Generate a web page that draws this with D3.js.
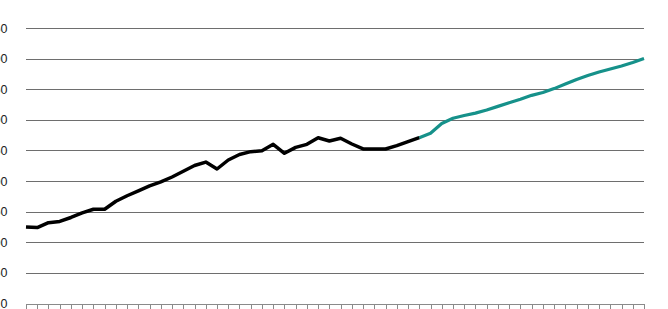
<!DOCTYPE html>
<html>
<head>
<meta charset="utf-8">
<script src="https://cdn.jsdelivr.net/npm/d3@7"></script>
<style>
  html, body { margin: 0; padding: 0; background: #fff; }
  svg { display: block; }
</style>
</head>
<body>
<svg id="chart" width="668" height="309"></svg>
<script>
// ---- data ----
const periods = [1995,1996,1997,1998,1999,2000,2001,2002,2003,2004,2005,2006,2007,2008,
  2009,2010,2011,2012,2013,2014,2015,2016,2017,2018,2019,2020,2021,2022,2023,2024,2025,
  2026,2027,2028,2029,2030,2031,2032,2033,2034,2035,2036,2037,2038,2039,2040,2041,2042,
  2043,2044,2045,2046,2047,2048,2049,2050];
const historical = [125,124,132,134,140.5,148,154,154,167,176,184,192,198.5,206.6,216,225.4,
  231,219.7,234.4,243.4,248,249.6,260,245.3,255,260,270.8,265.4,270,260.5,252.4,252.4,
  252.4,257.8,264.3,270.8];
const projection = [270.8,278,294,302.5,307,311,316,322,328,333.5,340,344.6,351,358.5,366,
  372.4,378,383,388,393.6,400];
const yTicks = [0,50,100,150,200,250,300,350,400,450];

// ---- layout ----
const svg = d3.select("#chart");
const mLeft = 26, mRight = 644, mTop = 28, mBottom = 303.5;

const x = d3.scaleLinear().domain([0, periods.length - 1]).range([mLeft, mRight]);
const y = d3.scaleLinear().domain([0, 450]).range([mBottom, mTop]);

// gridlines + y labels
const yAxis = d3.axisLeft(y).tickValues(yTicks).tickSize(-(mRight - mLeft)).tickPadding(18.5)
  .tickFormat(d3.format("d"));
const gy = svg.append("g").attr("transform", `translate(${mLeft},0)`).call(yAxis);
gy.select(".domain").remove();
gy.selectAll(".tick line").attr("stroke", "#6e6e6e").attr("stroke-width", 1)
  .attr("shape-rendering", "crispEdges");
gy.selectAll(".tick text").attr("fill", "#222").attr("font-size", 12.5)
  .attr("font-family", "'Liberation Sans', Arial, sans-serif");

// x axis with tick marks, no labels
const xAxis = d3.axisBottom(x).tickValues(d3.range(periods.length)).tickSize(5)
  .tickSizeOuter(0).tickFormat("");
const gx = svg.append("g").attr("transform", `translate(0,${mBottom})`).call(xAxis);
gx.select(".domain").attr("stroke", "#8a8a8a").attr("shape-rendering", "crispEdges");
gx.selectAll(".tick line").attr("stroke", "#8a8a8a").attr("shape-rendering", "crispEdges");

// lines
const line = d3.line().x(d => x(d.i)).y(d => y(d.v));
const histData = historical.map((v, i) => ({ i, v }));
const projStart = historical.length - 1;
const projData = projection.map((v, k) => ({ i: projStart + k, v }));

svg.append("path").datum(projData).attr("d", line)
  .attr("fill", "none").attr("stroke", "#16918a").attr("stroke-width", 3.2)
  .attr("stroke-linejoin", "round").attr("stroke-linecap", "butt");
svg.append("path").datum(histData).attr("d", line)
  .attr("fill", "none").attr("stroke", "#000").attr("stroke-width", 3.5)
  .attr("stroke-linejoin", "round").attr("stroke-linecap", "butt");
</script>
</body>
</html>
